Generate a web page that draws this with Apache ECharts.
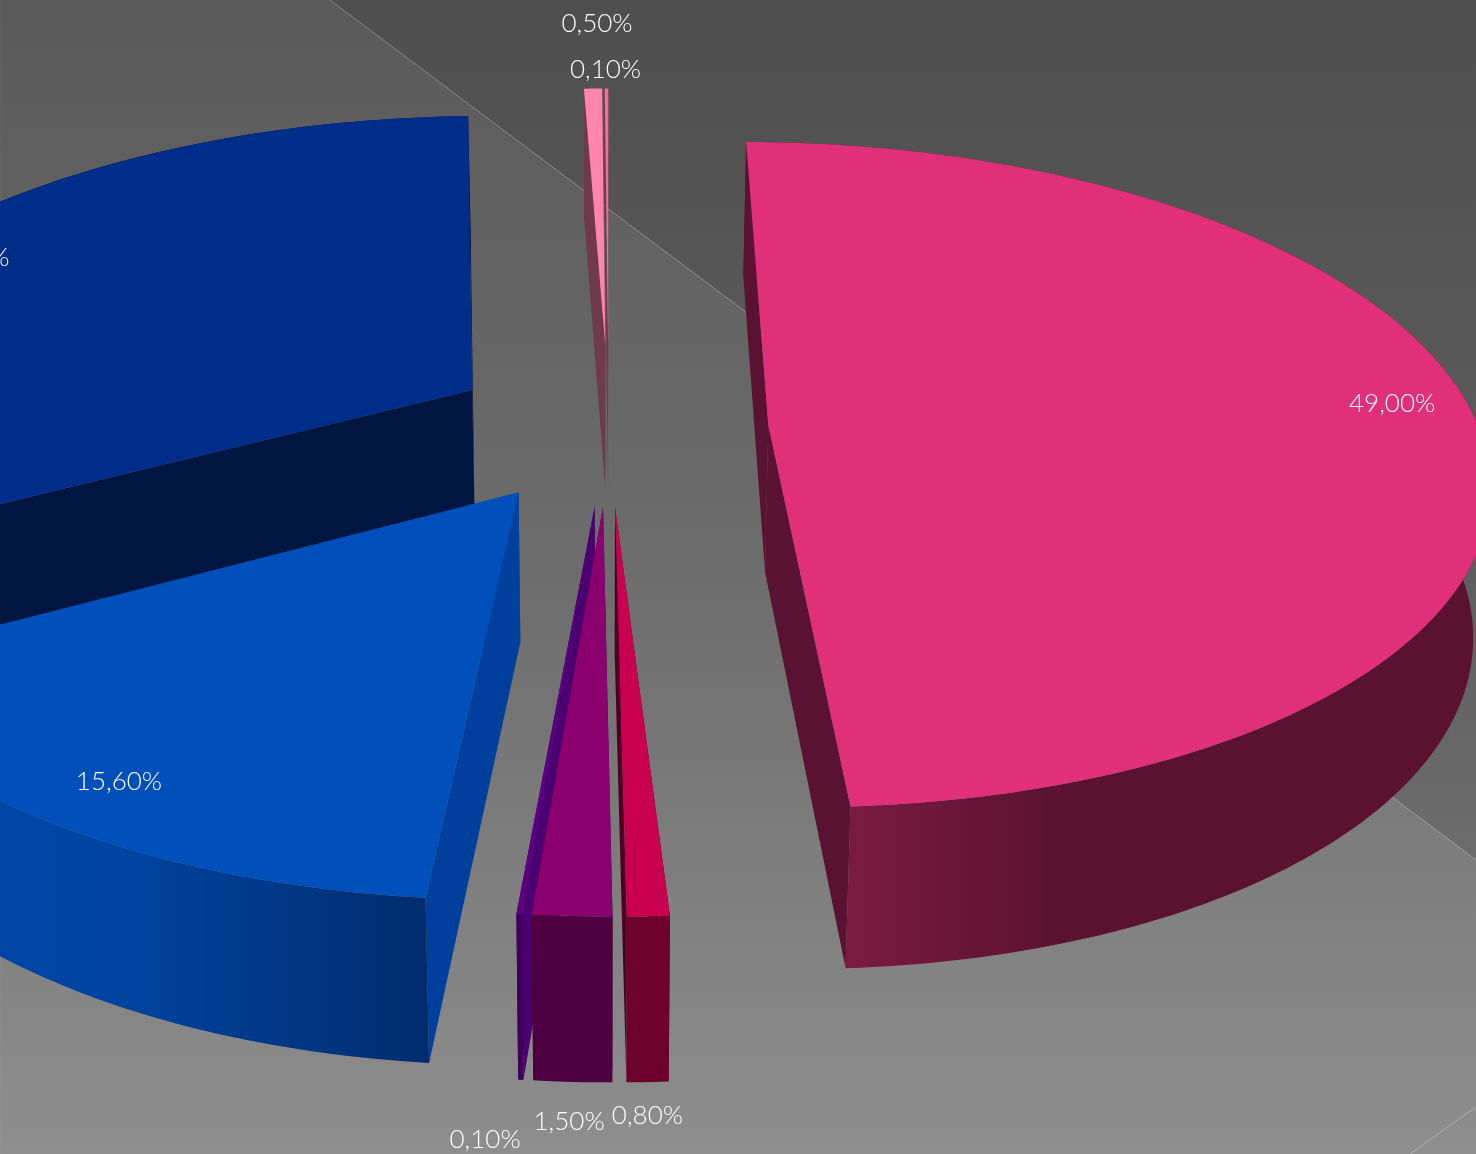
<!DOCTYPE html>
<html><head><meta charset="utf-8">
<style>html,body{margin:0;padding:0;background:#666;overflow:hidden}#c{width:1476px;height:1154px}</style>
<script src="https://cdn.jsdelivr.net/npm/echarts@6/dist/echarts.min.js"></script>
</head><body><div id="c"></div>
<script>
// data, clockwise from the first slice angle
const labels = ['49,00%','0,80%','1,50%','0,10%','15,60%','32,40%','0,50%','0,10%'];
const values = [49.0,0.8,1.5,0.1,15.6,32.4,0.5,0.1];
// styles, same order
const topColors = ['#e0307a','#c8004f','#8a006e','#5b0080','#004fbb','#002d8a','#ff85ae','#f07098'];
const cutColors = ['#5a1232','#4f0022','#4e0040','#4a0070','#00409c','#001540','#6e3a4c','#6e3a4c'];
const wallStops = [
 [[0,'#5a1232'],[0.14,'#7a1a42'],[0.42,'#5a1230'],[1,'#5a1230']],
 [[0,'#6e002c'],[1,'#6e002c']],
 [[0,'#4e0040'],[1,'#4e0040']],
 [[0,'#3e0058'],[1,'#3e0058']],
 [[0,'#0049ad'],[0.5,'#00439f'],[1,'#002c6e']],
 [[0,'#001540'],[1,'#001540']],
 [[0,'#6e3a4c'],[1,'#6e3a4c']],
 [[0,'#6e3a4c'],[1,'#6e3a4c']]
];
const drawRank = [2,7,6,5,4,0,1,1];
const labelOffsets = [[-82,-13],[-1,199],[-3,205],[-34,225],[70,-40],[53,14],[4,-65],[-1,-19]];
const radiusScale = [1.006,0.992,0.992,0.992,1,1.03,1,1];
const backBulge = [0.024,0,0,0,0,0,0,0];
const apexShift = [[0,0.015],[0,0],[0,0],[0,0],[0,0],[0,0.023],[0,0],[0,0]];
// projection of the 3D pie
const view = {cx:605,cy:500,A:730,B:347,p:0.165,cz:-0.232,explode:0.252,explodeX:0.9,r:0.99,startDeg:0.3,H:150,p2:0.095,bottomScale:0.98,shear:0.011,shearY:88};
const total = values.reduce((a,b)=>a+b,0);
function projTop(x,z){const w=1-view.p*z;const sy=view.cy+view.B*z/w;return [view.cx+view.A*x/w+view.shear*(sy-view.shearY),sy];}
function projBot(x,z){const t=projTop(x,z);return [view.cx+(t[0]-view.cx)*view.bottomScale,t[1]+view.H/(1-view.p2*z)];}
function renderItem(params,api){
  const i=params.dataIndex, v=api.value(0);
  let before=0; for(let k=0;k<i;k++) before+=values[k];
  const a0=(view.startDeg+before/total*360)*Math.PI/180, a1=a0+v/total*2*Math.PI, m=(a0+a1)/2;
  const ax=view.explode*view.explodeX*Math.sin(m)+apexShift[i][0], az=view.cz-view.explode*Math.cos(m)+apexShift[i][1];
  const radius=t=>view.r*radiusScale[i]*(1+backBulge[i]*(Math.cos(t)+1)/2);
  const n=Math.max(2,Math.ceil((a1-a0)/(Math.PI/180)));
  const arc=[]; for(let k=0;k<=n;k++){const t=a0+(a1-a0)*k/n,R=radius(t);arc.push([ax+R*Math.sin(t),az-R*Math.cos(t)]);}
  const topArc=arc.map(q=>projTop(q[0],q[1])), botArc=arc.map(q=>projBot(q[0],q[1]));
  const tA=projTop(ax,az), bA=projBot(ax,az);
  const z=drawRank[i]*10;
  const poly=(pts,fill,z2)=>({type:'polygon',z2:z+z2,shape:{points:pts},style:{fill:fill,stroke:null},silent:true});
  const cutEnd=poly([tA,topArc[n],botArc[n],bA],cutColors[i],1);
  const cutStart=poly([tA,topArc[0],botArc[0],bA],cutColors[i],1);
  const wall=poly(topArc.concat(botArc.slice().reverse()),{type:'linear',x:0,y:0,x2:1,y2:0,colorStops:wallStops[i].map(s=>({offset:s[0],color:s[1]}))},2);
  const top=poly([tA].concat(topArc),topColors[i],3);
  const Rm=radius(m);
  const out=projTop(ax+Rm*Math.sin(m),az-Rm*Math.cos(m));
  const txt={type:'text',z2:200,silent:true,style:{text:labels[i],x:out[0]+labelOffsets[i][0],y:out[1]+labelOffsets[i][1],
    fill:'#ffffff',font:'300 26px Lato, "Open Sans", sans-serif',textAlign:'center',textVerticalAlign:'middle'}};
  return {type:'group',children:[cutEnd,cutStart,wall,top,txt]};
}
const chart=echarts.init(document.getElementById('c'),null,{renderer:'canvas'});
chart.setOption({
  animation:false,
  backgroundColor:{type:'linear',x:0,y:0,x2:0,y2:1,colorStops:[{offset:0,color:'#5a5a5a'},{offset:0.5,color:'#6d6d6d'},{offset:1,color:'#8e8e8e'}]},
  graphic:[
    {type:'polygon',z:0,silent:true,shape:{points:[[330,0],[1476,860],[1476,0]]},style:{fill:'rgba(0,0,0,0.13)'}},
    {type:'polyline',z:0,silent:true,shape:{points:[[330,0],[1476,860]]},style:{stroke:'rgba(255,255,255,0.3)',lineWidth:1,fill:null}},
    {type:'polyline',z:0,silent:true,shape:{points:[[1410,1154],[1476,1107]]},style:{stroke:'rgba(255,255,255,0.3)',lineWidth:1,fill:null}},
    {type:'polyline',z:0,silent:true,shape:{points:[[1,0],[1,1154]]},style:{stroke:'rgba(255,255,255,0.06)',lineWidth:1,fill:null}}
  ],
  series:[{type:'custom',coordinateSystem:'none',renderItem:renderItem,data:values.map(v=>[v]),clip:false,silent:true,z:2}]
});
</script></body></html>
